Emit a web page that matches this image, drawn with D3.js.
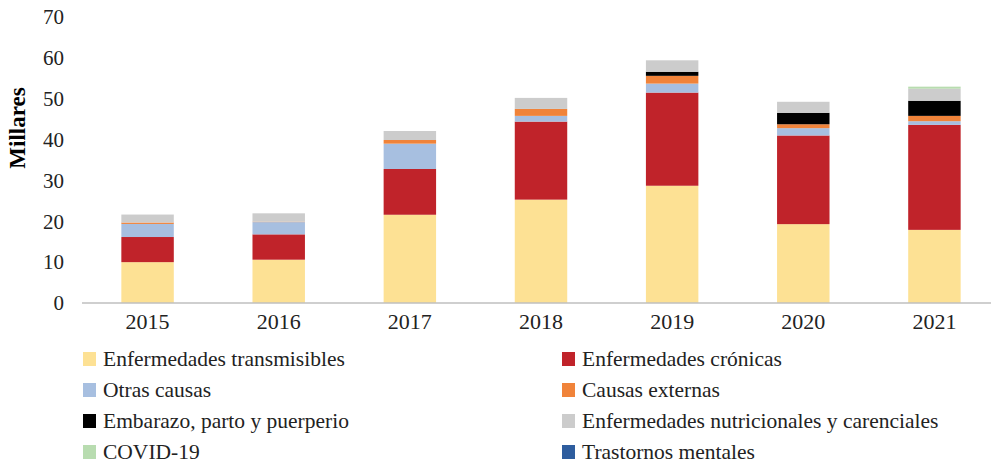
<!DOCTYPE html>
<html>
<head>
<meta charset="utf-8">
<script src="https://cdn.jsdelivr.net/npm/d3@7"></script>
<style>
  body { margin: 0; background: #fff; }
  text { font-family: "Liberation Serif", "DejaVu Serif", serif; }
</style>
</head>
<body>
<div id="vis"></div>
<script>
// data (thousands)
const years = ["2015", "2016", "2017", "2018", "2019", "2020", "2021"];
const seriesNames = [
  "Enfermedades transmisibles", "Enfermedades crónicas",
  "Otras causas", "Causas externas",
  "Embarazo, parto y puerperio", "Enfermedades nutricionales y carenciales",
  "COVID-19", "Trastornos mentales"
];
const transmisibles = [10.0, 10.6, 21.6, 25.3, 28.7, 19.3, 17.9];
const cronicas      = [6.15, 6.2, 11.2, 19.1, 22.8, 21.7, 25.7];
const otras         = [3.2, 3.0, 6.2, 1.4, 2.2, 1.8, 0.9];
const externas      = [0.35, 0.1, 0.9, 1.7, 1.9, 0.95, 1.3];
const embarazo      = [0, 0, 0, 0, 1.0, 2.8, 3.7];
const nutricionales = [1.95, 2.05, 2.2, 2.7, 2.8, 2.7, 2.95];
const covid         = [0, 0, 0, 0, 0, 0, 0.5];
const trastornos    = [0, 0, 0, 0, 0, 0, 0];
const yTicks = [0, 10, 20, 30, 40, 50, 60, 70];

const colors = ["#fde194", "#c0232a", "#a7bfe0", "#f0833a", "#000000", "#cccccc", "#b8dcb0", "#2e5d9e"];
const allSeries = [transmisibles, cronicas, otras, externas, embarazo, nutricionales, covid, trastornos];

const width = 991, height = 465;
const svg = d3.select("#vis").append("svg")
  .attr("width", width).attr("height", height);

const rows = years.map((y, i) => {
  const r = { year: y };
  seriesNames.forEach((s, k) => r[s] = allSeries[k][i]);
  return r;
});
const stacked = d3.stack().keys(seriesNames)(rows);

const x = d3.scaleBand().domain(years).range([82, 1000]).paddingInner(0.6).paddingOuter(0.3);
const y = d3.scaleLinear().domain([0, 70]).range([303, 17]);

// bars
svg.append("g").selectAll("g")
  .data(stacked)
  .join("g")
  .attr("fill", (d, i) => colors[i])
  .selectAll("rect")
  .data(d => d)
  .join("rect")
  .attr("x", d => x(d.data.year))
  .attr("width", x.bandwidth())
  .attr("y", d => y(d[1]))
  .attr("height", d => Math.max(0, y(d[0]) - y(d[1])));

// baseline
svg.append("line")
  .attr("x1", 82).attr("x2", 1000)
  .attr("y1", y(0)).attr("y2", y(0))
  .attr("stroke", "#bfbfbf").attr("stroke-width", 1.5);

// y tick labels
svg.append("g").selectAll("text")
  .data(yTicks)
  .join("text")
  .attr("x", 64).attr("y", d => y(d))
  .attr("dy", "0.35em")
  .attr("text-anchor", "end")
  .attr("font-size", 21).attr("fill", "#222")
  .text(d => d);

// x labels
svg.append("g").selectAll("text")
  .data(years)
  .join("text")
  .attr("x", d => x(d) + x.bandwidth() / 2)
  .attr("y", 329)
  .attr("text-anchor", "middle")
  .attr("font-size", 22).attr("fill", "#222")
  .text(d => d);

// y title
svg.append("text")
  .attr("transform", "translate(25,128) rotate(-90)")
  .attr("text-anchor", "middle")
  .attr("font-size", 23).attr("font-weight", "bold")
  .text("Millares");

// legend
const legend = svg.append("g").selectAll("g")
  .data(seriesNames)
  .join("g")
  .attr("transform", (d, i) => `translate(${i % 2 === 0 ? 83 : 562},${359 + Math.floor(i / 2) * 31})`);
legend.append("rect")
  .attr("x", 0).attr("y", -7).attr("width", 13).attr("height", 14)
  .attr("fill", (d, i) => colors[i]);
legend.append("text")
  .attr("x", 20).attr("dy", "0.32em")
  .attr("font-size", 21.5).attr("fill", "#222")
  .text(d => d);
</script>
</body>
</html>
